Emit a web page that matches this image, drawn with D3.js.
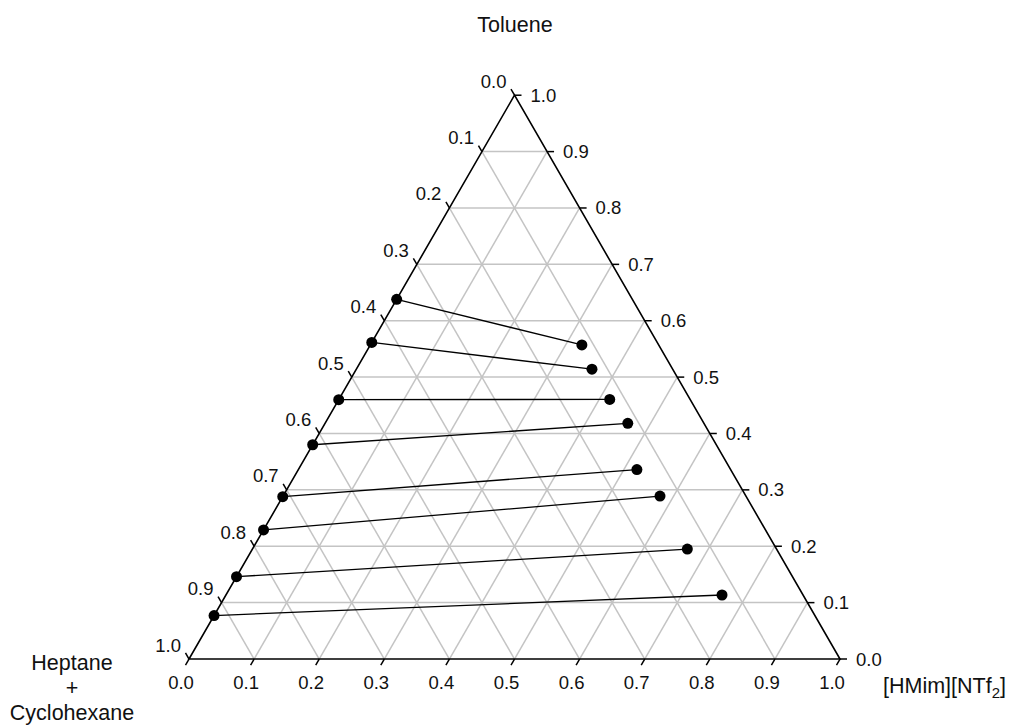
<!DOCTYPE html>
<html>
<head>
<meta charset="utf-8">
<script src="https://cdn.jsdelivr.net/npm/d3@7"></script>
<style>
  html, body { margin: 0; padding: 0; background: #fff; }
  svg { display: block; font-family: "Liberation Sans", Arial, sans-serif; }
</style>
</head>
<body>
<svg id="chart" width="1015" height="725"></svg>
<script>
// ---- Data (mass fractions) ----
const ticks = [0.0, 0.1, 0.2, 0.3, 0.4, 0.5, 0.6, 0.7, 0.8, 0.9, 1.0];
const tickLabels = ["0.0", "0.1", "0.2", "0.3", "0.4", "0.5", "0.6", "0.7", "0.8", "0.9", "1.0"];
// Raffinate phase (alkane-rich): toluene fraction, IL fraction
const raffToluene = [0.638, 0.5615, 0.460, 0.380, 0.288, 0.229, 0.146, 0.077];
const raffIL      = [0.000, 0.000, 0.000, 0.000, 0.000, 0.000, 0.000, 0.000];
// Extract phase (IL-rich): toluene fraction, IL fraction
const extToluene  = [0.557, 0.514, 0.4605, 0.418, 0.336, 0.289, 0.195, 0.1135];
const extIL       = [0.325, 0.362, 0.416, 0.465, 0.520, 0.579, 0.668, 0.762];

const titleTop = "Toluene";
const titleLeft = ["Heptane", "+", "Cyclohexane"];

// ---- Scales ----
const svg = d3.select("#chart");
const x0 = 189, side = 651, yb = 659;
const hgt = side * Math.sqrt(3) / 2;
const xS = d3.scaleLinear().domain([0, 1]).range([x0, x0 + side]);
const yS = d3.scaleLinear().domain([0, 1]).range([yb, yb - hgt]);
// ternary (IL fraction h, toluene fraction t) -> pixels
const px = (h, t) => xS(h + t / 2);
const py = (h, t) => yS(t);

const grid = svg.append("g").attr("stroke", "#c4c4c4").attr("stroke-width", 1.5).attr("fill", "none");
const inner = ticks.filter(v => v > 0.001 && v < 0.999);
inner.forEach(k => {
  grid.append("line").attr("x1", px(0, k)).attr("y1", py(0, k)).attr("x2", px(1 - k, k)).attr("y2", py(1 - k, k));
  grid.append("line").attr("x1", px(k, 0)).attr("y1", py(k, 0)).attr("x2", px(k, 1 - k)).attr("y2", py(k, 1 - k));
  grid.append("line").attr("x1", px(1 - k, 0)).attr("y1", py(1 - k, 0)).attr("x2", px(0, 1 - k)).attr("y2", py(0, 1 - k));
});

// Triangle outline
const tri = [[0, 0], [1, 0], [0, 1]];
svg.append("path")
  .attr("d", d3.line()(tri.map(d => [px(d[0], d[1]), py(d[0], d[1])])) + "Z")
  .attr("fill", "none").attr("stroke", "#000").attr("stroke-width", 1.6);

// Ticks and labels
const tl = 7;
const axisG = svg.append("g").attr("stroke", "#000").attr("stroke-width", 1.5);
const labG = svg.append("g").attr("font-size", 18.5).attr("fill", "#111");
ticks.forEach((v, i) => {
  let bx = px(v, 0), by = py(v, 0);
  axisG.append("line").attr("x1", bx).attr("y1", by).attr("x2", bx - tl * 0.5).attr("y2", by + tl * 0.866);
  labG.append("text").attr("x", bx - 8).attr("y", by + 30).attr("text-anchor", "middle").text(tickLabels[i]);
  let lx = px(0, 1 - v), ly = py(0, 1 - v);
  axisG.append("line").attr("x1", lx).attr("y1", ly).attr("x2", lx - tl * 0.5).attr("y2", ly - tl * 0.866);
  labG.append("text").attr("x", lx - 8).attr("y", ly - 7.5).attr("text-anchor", "end").text(tickLabels[i]);
  let rx = px(1 - v, v), ry = py(1 - v, v);
  axisG.append("line").attr("x1", rx).attr("y1", ry).attr("x2", rx + tl).attr("y2", ry);
  labG.append("text").attr("x", rx + 16).attr("y", ry + 6.5).attr("text-anchor", "start").text(tickLabels[i]);
});

// Tie lines
const tie = svg.append("g");
raffToluene.forEach((t, i) => {
  tie.append("line")
    .attr("x1", px(raffIL[i], t)).attr("y1", py(raffIL[i], t))
    .attr("x2", px(extIL[i], extToluene[i])).attr("y2", py(extIL[i], extToluene[i]))
    .attr("stroke", "#000").attr("stroke-width", 1.3);
});
raffToluene.forEach((t, i) => {
  tie.append("circle").attr("cx", px(raffIL[i], t)).attr("cy", py(raffIL[i], t)).attr("r", 5.5).attr("fill", "#000");
  tie.append("circle").attr("cx", px(extIL[i], extToluene[i])).attr("cy", py(extIL[i], extToluene[i])).attr("r", 5.5).attr("fill", "#000");
});

// Titles
const tG = svg.append("g").attr("font-size", 21.5).attr("fill", "#111");
tG.append("text").attr("x", 515).attr("y", 32).attr("text-anchor", "middle").text(titleTop);
const lb = [670, 695, 720];
titleLeft.forEach((s, i) => {
  tG.append("text").attr("x", 72).attr("y", lb[i]).attr("text-anchor", "middle").text(s);
});
const rt = tG.append("text").attr("x", 883).attr("y", 693).attr("text-anchor", "start");
rt.append("tspan").text("[HMim][NTf");
rt.append("tspan").attr("font-size", 15).attr("dy", 5).text("2");
rt.append("tspan").attr("dy", -5).text("]");
</script>
</body>
</html>
